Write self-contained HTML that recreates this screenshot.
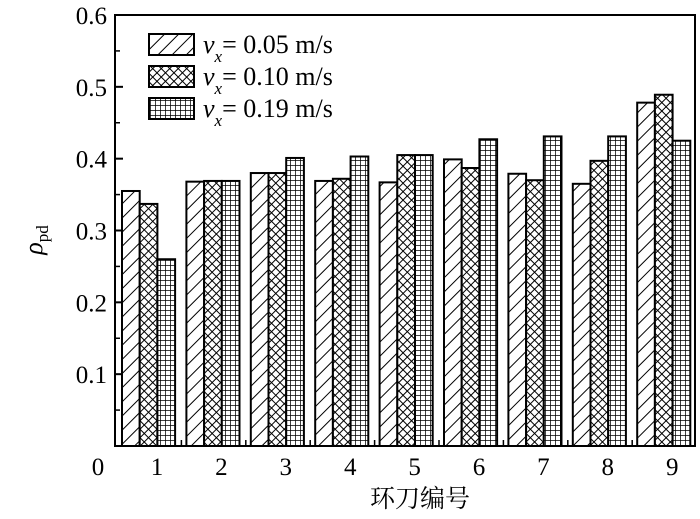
<!DOCTYPE html>
<html><head><meta charset="utf-8"><style>
body{margin:0;background:#fff;width:700px;height:514px;overflow:hidden}
text{font-family:"Liberation Serif","Noto Serif CJK SC",serif;fill:#000}
</style></head><body>
<svg id="chart" width="700" height="514">
<defs>
<pattern id="hatch" patternUnits="userSpaceOnUse" width="10" height="10" patternTransform="rotate(45)">
<rect width="10" height="10" fill="#fff"/><line x1="0" y1="0" x2="0" y2="10" stroke="#000" stroke-width="2"/></pattern>
<pattern id="cross" patternUnits="userSpaceOnUse" width="6" height="6" patternTransform="rotate(45)">
<rect width="6" height="6" fill="#fff"/><line x1="0" y1="0" x2="0" y2="6" stroke="#000" stroke-width="2"/><line x1="0" y1="0" x2="6" y2="0" stroke="#000" stroke-width="2"/></pattern>
<pattern id="grid" patternUnits="userSpaceOnUse" width="5" height="5">
<rect width="5" height="5" fill="#fff"/><line x1="0" y1="0" x2="0" y2="5" stroke="#000" stroke-width="1.5"/><line x1="0" y1="0" x2="5" y2="0" stroke="#000" stroke-width="1.5"/></pattern>
</defs>
<g id="marks"></g>
<rect x="115" y="15" width="580" height="431" fill="none" stroke="#000" stroke-width="2"/>
<g id="axes"></g>
<text x="420" y="507" font-size="25" text-anchor="middle">环刀编号</text>
<g transform="translate(42,240) rotate(-90)"><text font-size="26" font-style="italic" text-anchor="middle">ρ<tspan font-size="17" font-style="normal" dy="6">pd</tspan></text></g>
<g id="legend"></g>
</svg>
<script>
const categories=["1","2","3","4","5","6","7","8","9"];
const s005=[0.355,0.368,0.380,0.369,0.367,0.399,0.379,0.365,0.478];
const s010=[0.337,0.369,0.380,0.372,0.405,0.387,0.370,0.397,0.489];
const s019=[0.260,0.369,0.401,0.403,0.405,0.427,0.431,0.431,0.425];
const seriesLabels=["0.05 m/s","0.10 m/s","0.19 m/s"];
const yTicks=[0,0.1,0.2,0.3,0.4,0.5,0.6];
const NS="http://www.w3.org/2000/svg";
const y=v=>446-v*(431/0.6);
const groupX=i=>122+i*64.4;
const bw=17.7;
const fills=["url(#hatch)","url(#cross)","url(#grid)"];
const series=[s005,s010,s019];
function mk(t,a,p){const e=document.createElementNS(NS,t);for(const k in a)e.setAttribute(k,a[k]);p.appendChild(e);return e;}
const marks=document.getElementById('marks'),axes=document.getElementById('axes'),leg=document.getElementById('legend');
series.forEach((s,si)=>s.forEach((v,i)=>{
 const r=mk('rect',{x:groupX(i)+si*bw,y:y(v),width:bw,height:446-y(v),fill:fills[si],stroke:'#000','stroke-width':2},marks);
 
 
}));
yTicks.forEach(t=>{
 mk('line',{x1:115,x2:123,y1:y(t),y2:y(t),stroke:'#000','stroke-width':2},axes);
 const tx=mk('text',{x:t===0?98:107,y:t===0?y(t)+29:y(t)+9,'font-size':25,'text-anchor':t===0?'middle':'end'},axes);
 tx.textContent=t===0?"0":t.toFixed(1);
 
 
 if(t<0.6){const m=y(t+0.05);mk('line',{x1:115,x2:120,y1:m,y2:m,stroke:'#000','stroke-width':1.5},axes);}
});
categories.forEach((c,i)=>{
 const tx=mk('text',{x:groupX(i)+35,y:475,'font-size':25,'text-anchor':'middle'},axes);
 tx.textContent=c;
 
 
 if(i<8){const xm=groupX(i)+64.4-5;mk('line',{x1:xm,x2:xm,y1:446,y2:440,stroke:'#000','stroke-width':1.5},axes);}
});
seriesLabels.forEach((l,i)=>{
 const g=mk('g',{},leg);
 
 
 const yy=34+i*32;
 mk('rect',{x:149,y:yy,width:45,height:21,fill:fills[i],stroke:'#000','stroke-width':2},g);
 const t=mk('text',{x:203,y:yy+19,'font-size':26},g);
 t.innerHTML='<tspan font-style="italic">v</tspan><tspan font-style="italic" font-size="17" dy="9">x</tspan><tspan dy="-9">= '+l+'</tspan>';
});
</script>
</body></html>
